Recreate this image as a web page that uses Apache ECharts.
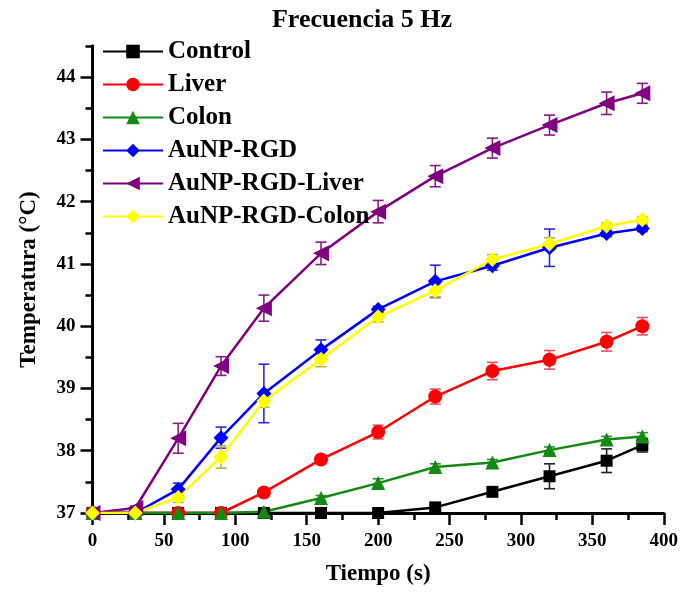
<!DOCTYPE html>
<html>
<head>
<meta charset="utf-8">
<script src="https://cdn.jsdelivr.net/npm/echarts@6/dist/echarts.min.js"></script>
<style>html,body{margin:0;padding:0;background:#fff;}#chart{width:681px;height:594px;}</style>
</head>
<body>
<div id="chart"></div>
<script>
const times = [0, 30, 60, 90, 120, 160, 200, 240, 280, 320, 360, 385];
const seriesNames = ['Control', 'Liver', 'Colon', 'AuNP-RGD', 'AuNP-RGD-Liver', 'AuNP-RGD-Colon'];
const control      = [37, 37, 37, 37, 37, 37, 37, 37.09, 37.34, 37.59, 37.84, 38.09];
const controlErr   = [0, 0, 0, 0, 0.02, 0.02, 0.02, 0.03, 0.03, 0.2, 0.19, 0.11];
const liver        = [37, 37, 37, 37, 37.33, 37.86, 38.3, 38.87, 39.28, 39.46, 39.75, 40.0];
const liverErr     = [0, 0, 0, 0, 0.05, 0.06, 0.11, 0.12, 0.14, 0.15, 0.15, 0.14];
const colon        = [37, 37, 37, 37, 37.02, 37.24, 37.48, 37.74, 37.81, 38.01, 38.18, 38.23];
const colonErr     = [0, 0, 0.02, 0.02, 0.05, 0.04, 0.07, 0.05, 0.05, 0.05, 0.05, 0.06];
const aunp         = [37, 37, 37.38, 38.21, 38.92, 39.62, 40.27, 40.72, 40.97, 41.26, 41.49, 41.57];
const aunpErr      = [0, 0, 0.1, 0.17, 0.47, 0.16, 0.05, 0.26, 0.07, 0.3, 0.05, 0.05];
const aunpLiver    = [37, 37.08, 38.2, 39.36, 40.29, 41.17, 41.84, 42.41, 42.86, 43.23, 43.58, 43.74];
const aunpLiverErr = [0, 0.03, 0.24, 0.15, 0.21, 0.18, 0.18, 0.17, 0.16, 0.16, 0.18, 0.16];
const aunpColon    = [37, 37, 37.25, 37.9, 38.8, 39.47, 40.15, 40.57, 41.07, 41.32, 41.61, 41.71];
const aunpColonErr = [0, 0, 0.08, 0.18, 0.1, 0.12, 0.08, 0.1, 0.08, 0.1, 0.05, 0.05];
const yMajorTicks = [37, 38, 39, 40, 41, 42, 43, 44];
const yMinorTicks = [37.5, 38.5, 39.5, 40.5, 41.5, 42.5, 43.5, 44.5];

const values = [control, liver, colon, aunp, aunpLiver, aunpColon];
const errors = [controlErr, liverErr, colonErr, aunpErr, aunpLiverErr, aunpColonErr];
const colors = ['#000000', '#ff0000', '#138a13', '#0000ff', '#800080', '#ffff00'];
const errColors = ['#222222', '#e8506a', '#2f8f2f', '#2a2ae0', '#8a1a8a', '#b8b040'];
const symbols = ['rect', 'circle', 'triangle', 'diamond', 'triangle', 'diamond'];
const symSizes = [12, 14, 14, 15, 16, 15];
const symRot = [0, 0, 0, 0, 90, 0];

const FONT = '"Liberation Serif", "Times New Roman", serif';
const chart = echarts.init(document.getElementById('chart'));

const series = [];
values.forEach((vals, k) => {
  series.push({
    name: seriesNames[k] + '_err',
    type: 'custom',
    xAxisIndex: 0, yAxisIndex: 0,
    z: 2,
    data: times.map((t, i) => [t, vals[i], errors[k][i]]).filter(d => d[2] > 0),
    renderItem: function (params, api) {
      const x = api.value(0), y = api.value(1), e = api.value(2);
      const hi = api.coord([x, y + e]);
      const lo = api.coord([x, y - e]);
      const w = 5.5;
      const st = { stroke: errColors[k], lineWidth: 1.6 };
      return {
        type: 'group',
        children: [
          { type: 'line', shape: { x1: hi[0], y1: hi[1], x2: lo[0], y2: lo[1] }, style: st },
          { type: 'line', shape: { x1: hi[0] - w, y1: hi[1], x2: hi[0] + w, y2: hi[1] }, style: st },
          { type: 'line', shape: { x1: lo[0] - w, y1: lo[1], x2: lo[0] + w, y2: lo[1] }, style: st }
        ]
      };
    }
  });
});
values.forEach((vals, k) => {
  series.push({
    name: seriesNames[k],
    type: 'line',
    xAxisIndex: 0, yAxisIndex: 0,
    z: 3,
    data: times.map((t, i) => [t, vals[i]]),
    symbol: symbols[k],
    symbolSize: symSizes[k],
    symbolRotate: symRot[k],
    showAllSymbol: true,
    lineStyle: { color: colors[k], width: 2.5 },
    itemStyle: { color: colors[k], opacity: 1 },
    emphasis: { disabled: true },
    animation: false
  });
});

chart.setOption({
  animation: false,
  backgroundColor: '#ffffff',
  title: {
    text: 'Frecuencia 5 Hz',
    left: 357, top: 2, textAlign: 'center',
    textStyle: { fontFamily: FONT, fontWeight: 'bold', fontSize: 26, color: '#000' }
  },
  legend: {
    data: seriesNames,
    orient: 'vertical',
    left: 97, top: 34,
    itemWidth: 60, itemHeight: 17, itemGap: 8,
    selectedMode: false,
    textStyle: { fontFamily: FONT, fontWeight: 'bold', fontSize: 25, color: '#000', lineHeight: 25 }
  },
  grid: { left: 92.5, right: 15, top: 46, bottom: 81, containLabel: false },
  xAxis: [{
    type: 'value', min: 0, max: 400, interval: 50,
    name: 'Tiempo (s)', nameLocation: 'middle', nameGap: 50,
    nameTextStyle: { fontFamily: FONT, fontWeight: 'bold', fontSize: 23, color: '#000' },
    axisLine: { show: true, onZero: false, lineStyle: { color: '#000', width: 3 } },
    axisTick: { show: true, inside: false, length: 12, lineStyle: { color: '#000', width: 2.5 } },
    minorTick: { show: true, splitNumber: 2, length: 7, lineStyle: { color: '#000', width: 2.5 } },
    splitLine: { show: false },
    axisLabel: { fontFamily: FONT, fontWeight: 'bold', fontSize: 19, color: '#000', margin: 19 }
  }],
  yAxis: [{
    type: 'value', min: 37, max: 44.5, interval: 1,
    name: 'Temperatura (°C)', nameLocation: 'middle', nameGap: 52,
    nameTextStyle: { fontFamily: FONT, fontWeight: 'bold', fontSize: 23, color: '#000' },
    axisLine: { show: true, onZero: false, lineStyle: { color: '#000', width: 3 } },
    axisTick: { show: true, inside: false, length: 12, customValues: yMajorTicks, lineStyle: { color: '#000', width: 2.5 } },
    axisLabel: { customValues: yMajorTicks, fontFamily: FONT, fontWeight: 'bold', fontSize: 19, color: '#000', margin: 17 },
    splitLine: { show: false }
  }, {
    type: 'value', min: 37, max: 44.5, position: 'left', offset: 0,
    axisLine: { show: true, onZero: false, lineStyle: { color: '#000', width: 3 } },
    axisTick: { show: true, inside: false, length: 7, customValues: yMinorTicks, lineStyle: { color: '#000', width: 2.5 } },
    axisLabel: { show: false },
    splitLine: { show: false }
  }],
  series: series
});
</script>
</body>
</html>
